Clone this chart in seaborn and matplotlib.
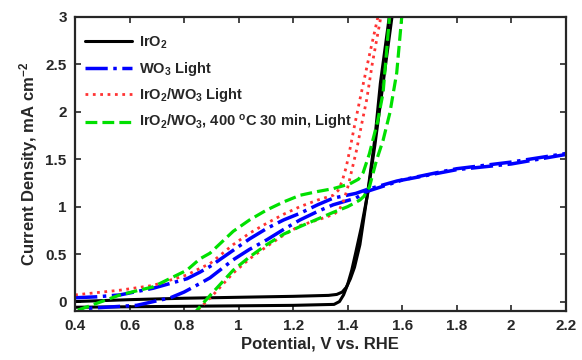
import matplotlib
matplotlib.use("Agg")
import matplotlib.pyplot as plt
import seaborn as sns
import pandas as pd

# ---- data ----
iro2_fwd_v = [0.40, 0.60, 0.80, 1.00, 1.20, 1.33, 1.36, 1.38, 1.395, 1.41, 1.425, 1.445, 1.475, 1.50, 1.52, 1.555]
iro2_fwd_i = [0.00, 0.02, 0.035, 0.045, 0.055, 0.065, 0.075, 0.10, 0.15, 0.24, 0.36, 0.60, 1.18, 1.72, 2.30, 3.05]
iro2_rev_v = [1.565, 1.53, 1.50, 1.475, 1.45, 1.43, 1.415, 1.40, 1.385, 1.37, 1.35, 1.20, 1.00, 0.80, 0.60, 0.40]
iro2_rev_i = [3.05, 2.30, 1.65, 1.16, 0.78, 0.52, 0.33, 0.18, 0.07, 0.0, -0.03, -0.04, -0.045, -0.05, -0.055, -0.06]

wo3_fwd_v = [0.40, 0.48, 0.565, 0.686, 0.81, 0.858, 0.895, 0.98, 1.04, 1.103, 1.165, 1.225, 1.29, 1.347, 1.43, 1.47, 1.58, 1.73, 1.80, 2.00, 2.20]
wo3_fwd_i = [0.04, 0.05, 0.07, 0.14, 0.24, 0.31, 0.37, 0.54, 0.66, 0.77, 0.86, 0.93, 1.02, 1.09, 1.14, 1.18, 1.27, 1.36, 1.40, 1.47, 1.56]
wo3_rev_v = [2.20, 2.00, 1.80, 1.60, 1.47, 1.43, 1.347, 1.29, 1.225, 1.165, 1.103, 1.04, 0.98, 0.895, 0.858, 0.80, 0.75, 0.626, 0.455, 0.42]
wo3_rev_i = [1.55, 1.45, 1.39, 1.28, 1.16, 1.09, 1.02, 0.95, 0.86, 0.76, 0.65, 0.55, 0.44, 0.25, 0.19, 0.10, 0.04, -0.04, -0.07, -0.08]

ir_wo3_fwd_v = [0.40, 0.565, 0.686, 0.81, 0.858, 0.895, 0.98, 1.04, 1.103, 1.165, 1.225, 1.29, 1.347, 1.365, 1.38, 1.395, 1.408, 1.425, 1.445, 1.48, 1.515]
ir_wo3_fwd_i = [0.07, 0.12, 0.17, 0.28, 0.35, 0.40, 0.60, 0.72, 0.825, 0.92, 1.00, 1.07, 1.12, 1.17, 1.27, 1.42, 1.60, 1.85, 2.13, 2.60, 3.05]
ir_wo3_rev_v = [1.525, 1.49, 1.47, 1.45, 1.433, 1.415, 1.40, 1.385, 1.37, 1.35, 1.30, 1.225, 1.165, 1.103, 1.04, 0.98, 0.90, 0.85, 0.82]
ir_wo3_rev_i = [3.05, 2.50, 2.13, 1.85, 1.60, 1.38, 1.20, 1.06, 0.97, 0.92, 0.87, 0.80, 0.70, 0.58, 0.45, 0.30, 0.05, -0.09, -0.20]

ann_fwd_v = [0.41, 0.43, 0.565, 0.686, 0.81, 0.858, 0.895, 0.98, 1.04, 1.103, 1.165, 1.225, 1.29, 1.347, 1.408, 1.44, 1.457, 1.48, 1.51, 1.53, 1.555]
ann_fwd_i = [-0.09, -0.07, 0.07, 0.155, 0.33, 0.45, 0.51, 0.74, 0.86, 0.965, 1.05, 1.12, 1.16, 1.19, 1.24, 1.29, 1.36, 1.56, 1.90, 2.20, 3.05]
ann_rev_v = [1.60, 1.58, 1.555, 1.53, 1.506, 1.48, 1.46, 1.445, 1.40, 1.347, 1.29, 1.225, 1.165, 1.103, 1.04, 0.98, 0.90, 0.858, 0.83]
ann_rev_i = [3.05, 2.41, 1.99, 1.70, 1.49, 1.21, 1.11, 1.07, 1.00, 0.94, 0.87, 0.79, 0.71, 0.60, 0.47, 0.33, 0.08, -0.055, -0.15]

labels = ["IrO$_\\mathbf{2}$",
          "WO$_\\mathbf{3}$ Light",
          "IrO$_\\mathbf{2}$/WO$_\\mathbf{3}$ Light",
          "IrO$_\\mathbf{2}$/WO$_\\mathbf{3}$, 400 $^\\mathbf{o}$C 30 min, Light"]
x_ticks = [0.4, 0.6, 0.8, 1.0, 1.2, 1.4, 1.6, 1.8, 2.0, 2.2]
x_ticklabels = ["0.4", "0.6", "0.8", "1", "1.2", "1.4", "1.6", "1.8", "2", "2.2"]
y_ticks = [0, 0.5, 1, 1.5, 2, 2.5, 3]
y_ticklabels = ["0", "0.5", "1", "1.5", "2", "2.5", "3"]

series = [
    (labels[0], [(iro2_fwd_v, iro2_fwd_i), (iro2_rev_v, iro2_rev_i)], "black", "-", 2.2),
    (labels[1], [(wo3_fwd_v, wo3_fwd_i), (wo3_rev_v, wo3_rev_i)], "#0000ff", "-.", 2.5),
    (labels[2], [(ir_wo3_fwd_v, ir_wo3_fwd_i), (ir_wo3_rev_v, ir_wo3_rev_i)], "#ff3333", ":", 2.0),
    (labels[3], [(ann_fwd_v, ann_fwd_i), (ann_rev_v, ann_rev_i)], "#00e000", "--", 2.3),
]

sns.set_style("ticks")
plt.rcParams["font.family"] = ["Liberation Sans", "DejaVu Sans"]
plt.rcParams["font.weight"] = "bold"
plt.rcParams["mathtext.fontset"] = "custom"
plt.rcParams["mathtext.rm"] = "Liberation Sans:bold"
plt.rcParams["mathtext.bf"] = "Liberation Sans:bold"
plt.rcParams["mathtext.default"] = "bf"

fig = plt.figure(figsize=(5.82, 3.60), dpi=100)
ax = fig.add_axes([0.129, 0.136, 0.843, 0.817])

for label, branches, color, ls, lw in series:
    for k, (vv, ii) in enumerate(branches):
        df = pd.DataFrame({"V": vv, "I": ii})
        sns.lineplot(data=df, x="V", y="I", sort=False, estimator=None, ax=ax,
                     color=color, linestyle=ls, linewidth=lw,
                     label=label if k == 0 else None)

ax.set_xlim(0.4, 2.2)
ax.set_ylim(-0.1, 3)
ax.set_xticks(x_ticks)
ax.set_xticklabels(x_ticklabels)
ax.set_yticks(y_ticks)
ax.set_yticklabels(y_ticklabels)
ax.tick_params(direction="in", top=True, right=True, length=4, width=1.2,
               labelsize=11, pad=6)
for lab in ax.get_xticklabels() + ax.get_yticklabels():
    lab.set_fontweight("bold")
for sp in ax.spines.values():
    sp.set_linewidth(1.6)
    sp.set_visible(True)

ax.set_xlabel("Potential, V vs. RHE", fontsize=12, fontweight="bold", labelpad=2)
ax.set_ylabel("Current Density, mA cm$^{-2}$", fontsize=12, fontweight="bold", labelpad=4)

leg = ax.legend(loc="upper left", frameon=False, fontsize=10.5, handlelength=3.2,
                labelspacing=0.6, handletextpad=0.5, borderaxespad=0.3,
                bbox_to_anchor=(0.0, 0.975))
for t in leg.get_texts():
    t.set_fontweight("bold")

fig.savefig("out.png", dpi=100)
